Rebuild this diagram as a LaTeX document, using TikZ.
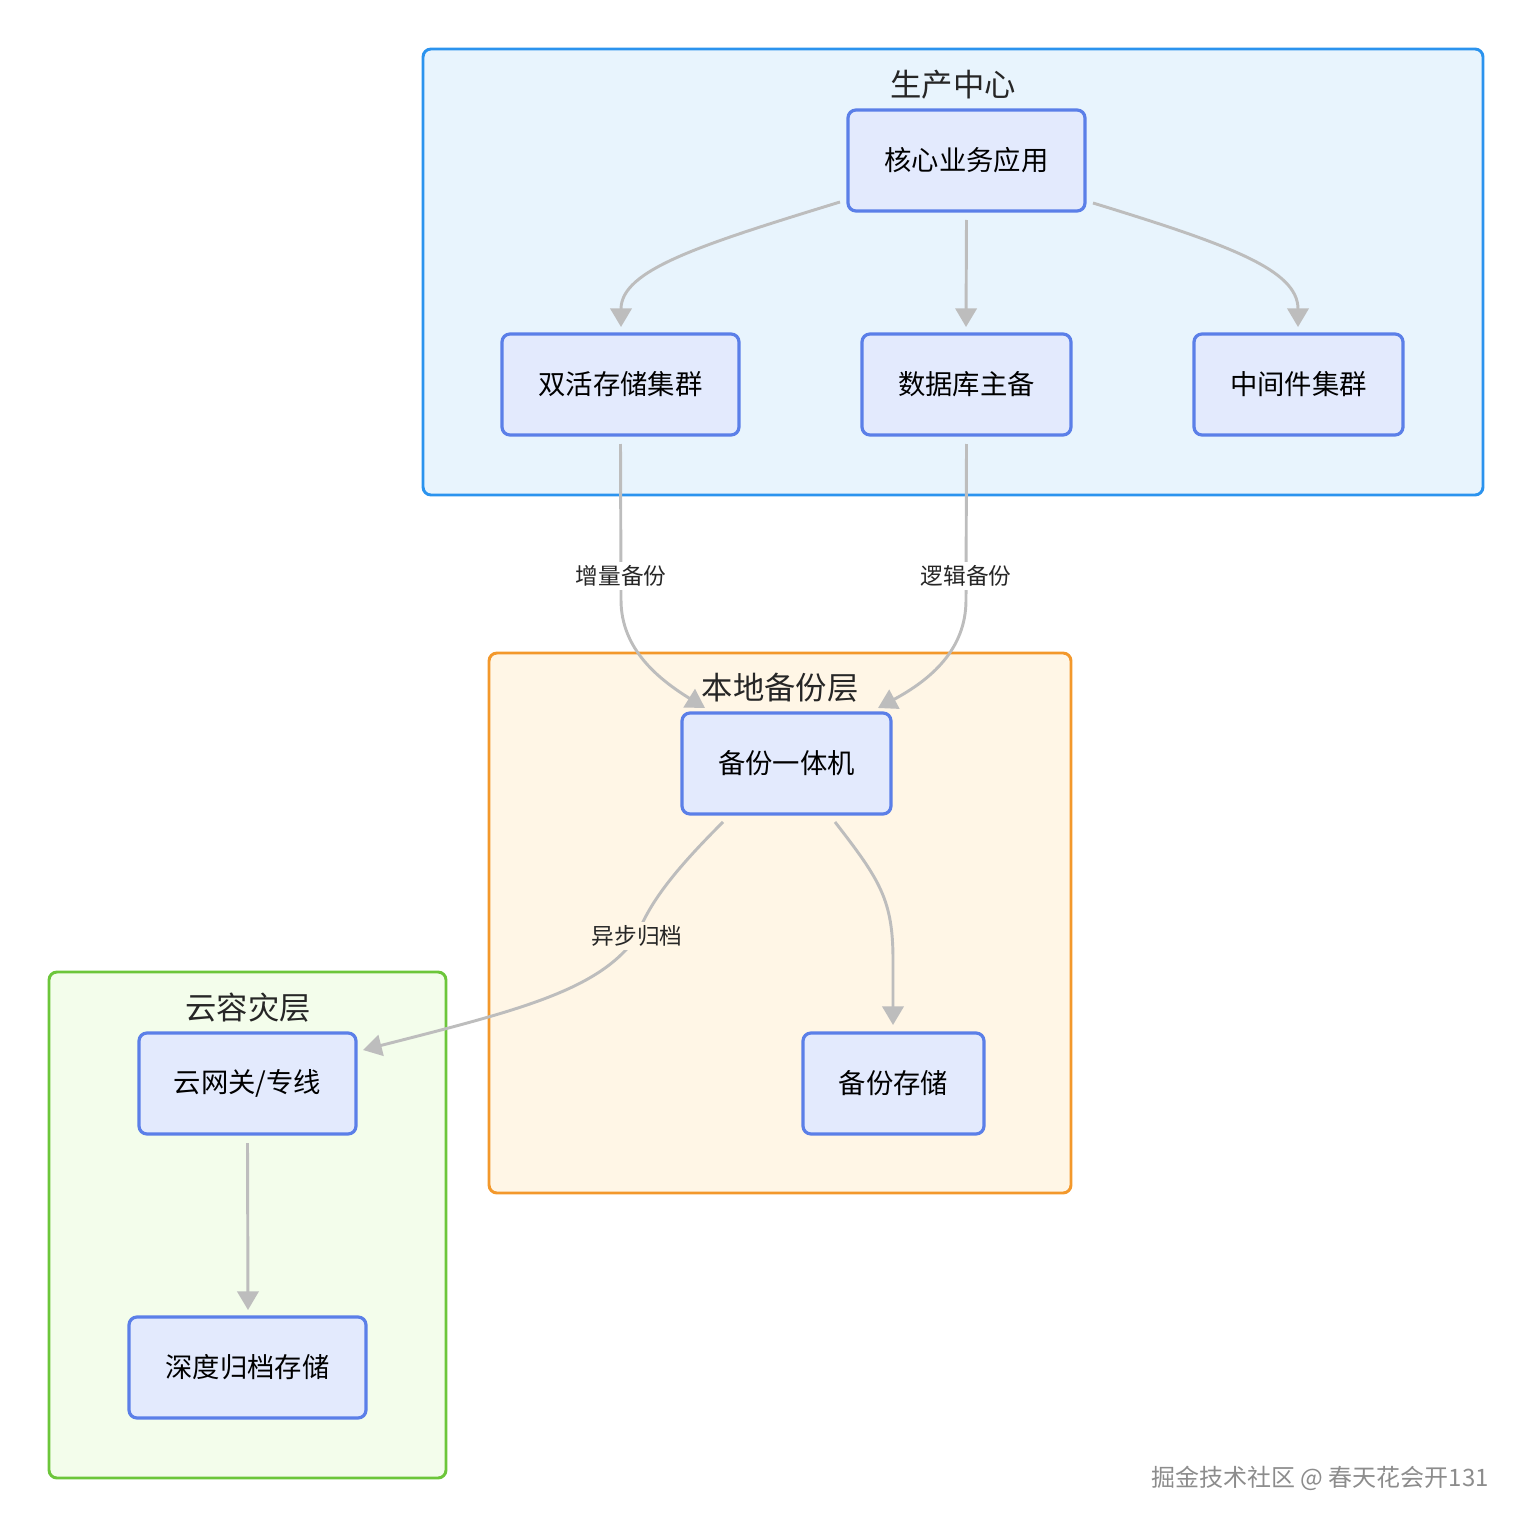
\documentclass[tikz,border=0pt]{standalone}
\usepackage{fontspec}
\newfontfamily\cjk{Noto Sans CJK SC}
\usetikzlibrary{arrows.meta}
\definecolor{nfill}{HTML}{E3EAFD}
\definecolor{nbord}{HTML}{5B7FE8}
\definecolor{bfill}{HTML}{E8F4FD}
\definecolor{bbord}{HTML}{2B93EE}
\definecolor{ofill}{HTML}{FFF6E6}
\definecolor{obord}{HTML}{F3982B}
\definecolor{gfill}{HTML}{F3FDEB}
\definecolor{gbord}{HTML}{6CC63A}
\definecolor{edge}{HTML}{BDBDBD}
\tikzset{
  cl/.style={rounded corners=6pt, line width=2.2pt},
  nd/.style={draw=nbord, fill=nfill, line width=2.4pt, rounded corners=6pt, font=\cjk\fontsize{20.5}{24}\selectfont, inner sep=0pt},
  ttl/.style={font=\cjk\fontsize{23.5}{28}\selectfont, text=black!85},
  lbl/.style={font=\cjk\fontsize{17}{20}\selectfont, text=black!85, inner sep=3pt},
  ed/.style={draw=edge, line width=2.2pt, -{Triangle[length=14pt,width=16pt]}},
}
\begin{document}
\begin{tikzpicture}[x=0.75pt,y=-0.75pt]
\useasboundingbox (0,0) rectangle (1534,1530);
% clusters
\draw[cl, draw=bbord, fill=bfill] (423,49) rectangle (1483,495);
\node[ttl] (t1) at (953,85) {生产中心};
\draw[cl, draw=obord, fill=ofill] (489,653) rectangle (1071,1193);
\draw[cl, draw=gbord, fill=gfill] (49,972) rectangle (446,1478);
\node[ttl] (t3) at (248,1008) {云容灾层};
% nodes
\node[nd, minimum width=177.75pt, minimum height=75.75pt] (core) at (966.5,160.5) {核心业务应用};
\node[nd, minimum width=177.75pt, minimum height=75.75pt] (aa) at (620.5,384.5) {双活存储集群};
\node[nd, minimum width=156.75pt, minimum height=75.75pt] (db) at (966.5,384.5) {数据库主备};
\node[nd, minimum width=156.75pt, minimum height=75.75pt] (mw) at (1298.5,384.5) {中间件集群};
\node[nd, minimum width=156.75pt, minimum height=75.75pt] (bk) at (786.5,763.5) {备份一体机};
\node[nd, minimum width=135.75pt, minimum height=75.75pt] (bs) at (893.5,1083.5) {备份存储};
\node[nd, minimum width=162.75pt, minimum height=75.75pt] (gw) at (247.5,1083.5) {云网关/专线};
\node[nd, minimum width=177.75pt, minimum height=75.75pt] (da) at (247.5,1367.5) {深度归档存储};
% edges
\coordinate (c1) at (840,202); \coordinate (c2) at (1093,203);
\coordinate (c3) at (723,822); \coordinate (c4) at (835,822);
\draw[ed] (c1) .. controls (700,245) and (621,270) .. (621,327);
\draw[ed] (core.south |- 0,220) -- (966,327);
\draw[ed] (c2) .. controls (1230,245) and (1298,270) .. (1298,327);
\draw[ed] (aa.south |- 0,444) -- (621,600) .. controls (621,650) and (660,680) .. (705,708);
\draw[ed] (db.south |- 0,444) -- (966,600) .. controls (966,650) and (930,680) .. (878,708);
\draw[ed] (c3) .. controls (680,865) and (650,900) .. (637,936) .. controls (600,990) and (520,1010) .. (363,1050);
\draw[ed] (c4) .. controls (880,880) and (893,900) .. (893,960) -- (893,1025);
\draw[ed] (gw.south |- 0,1143) -- (248,1310);
\node[ttl] (t2) at (780,688) {本地备份层};
\node[lbl, fill=white] (l1) at (621,576) {增量备份};
\node[lbl, fill=white] (l2) at (966,576) {逻辑备份};
\node[lbl, fill=ofill] (l3) at (637,936) {异步归档};
\node[font=\cjk\fontsize{18}{21}\selectfont, text=black!45] (wm) at (1320,1478) {掘金技术社区 @ 春天花会开131};
\end{tikzpicture}
\end{document}
